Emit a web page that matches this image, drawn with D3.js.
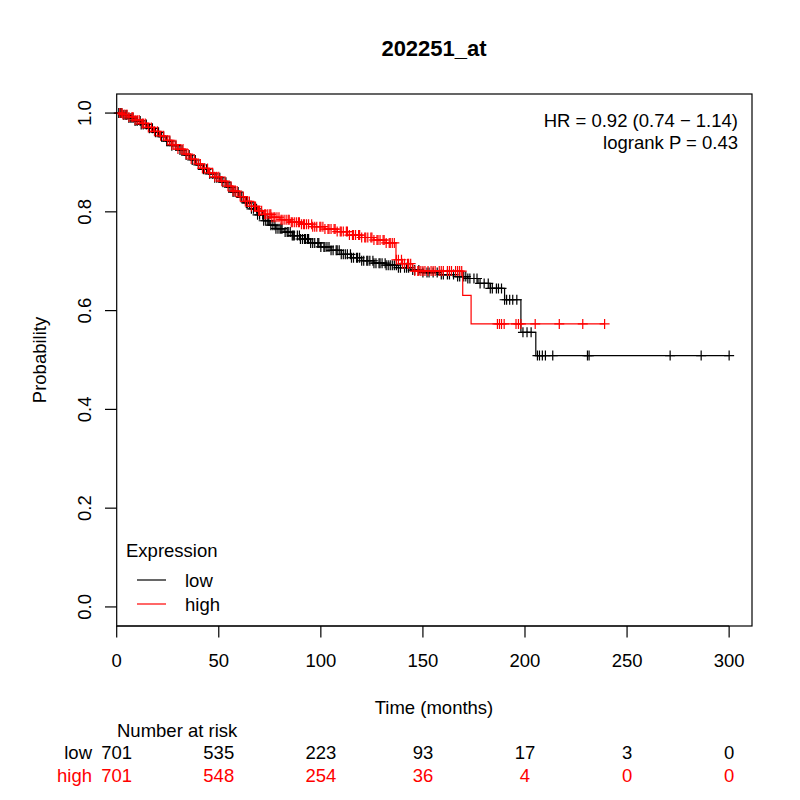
<!DOCTYPE html>
<html lang="en">
<head>
  <meta charset="UTF-8">
  <title>202251_at</title>
  <script src="https://d3js.org/d3.v7.min.js"></script>
  <style>
    body { margin: 0; background: #fff; }
    text { font-family: "Liberation Sans", Arial, sans-serif; }
  </style>
</head>
<body>
<svg id="chart" width="800" height="800"></svg>
<script>
// Kaplan-Meier steps [time, survival]
const lowSteps = [[0,1],[3,0.996],[6,0.99],[9,0.984],[12,0.977],[15,0.969],[18,0.961],[21,0.952],[24,0.943],[27,0.934],[30,0.925],[33,0.915],[36,0.905],[39,0.895],[42,0.886],[45,0.877],[48,0.869],[51,0.86],[54,0.85],[57,0.84],[60,0.829],[63,0.818],[66,0.806],[69,0.794],[72,0.782],[75,0.773],[78,0.766],[82,0.759],[86,0.752],[90,0.745],[95,0.737],[100,0.729],[105,0.722],[110,0.714],[115,0.707],[120,0.701],[126,0.696],[132,0.692],[138,0.687],[144,0.682],[150,0.677],[158,0.673],[166,0.669],[172,0.665],[177,0.655],[183,0.645],[190,0.622],[198,0.556],[205.3,0.509]];
const highSteps = [[0,1],[3,0.997],[6,0.992],[9,0.986],[12,0.979],[15,0.971],[18,0.963],[21,0.954],[24,0.945],[27,0.936],[30,0.927],[33,0.917],[36,0.907],[39,0.897],[42,0.888],[45,0.879],[48,0.871],[51,0.862],[54,0.852],[57,0.842],[60,0.831],[63,0.821],[66,0.811],[69,0.802],[72,0.795],[76,0.789],[80,0.784],[85,0.779],[90,0.775],[96,0.77],[102,0.765],[108,0.76],[114,0.753],[120,0.748],[126,0.743],[132,0.737],[136.8,0.703],[140,0.695],[145,0.68],[169.5,0.631],[173.6,0.573]];

// censored times
const lowCensor = [1,2.5,3.5,5,7,8,10,11.5,13,16,19,22,24.5,27,29,31,34,37,40,42.5,44,47,49,52,53.5,56,58,61,63.5,65,67,68.5,70,71.5,73,74,75.5,76.5,77.5,79,80,81,82.5,83.5,85,86,87,88.5,89.5,91,92,93.5,95,96,97,98.5,100,101.5,103,104,106,107.5,109,111,113,114.5,116,117.5,119,121,122.5,124,125.5,127,128.5,130,131.5,133,135,137,139,141,143,146,148,150,153,155,157,160,163,165,168,170,171,173,175,178,180,182,184,186,187,188.5,191,192.5,194,196,199,201,203,206.1,207.1,208.5,210,213.6,230.6,231.4,271.1,286.3,300];
const lowCensor2 = [2,4.5,6,9,12,14.5,17.5,20.5,23,26,32,35.5,38.5,41,45.5,48,50.5,55,57,59.5,62,64,66,69,72,74.5,78,80.5,84,86.5,90,92.5,94,99,102,105,108,110,112,115,118,120,123,126,129,132,134,136,138,142,145,152,159,162,167,172,176.5,183,190];
const highCensor = [1.5,3,4,6,7.5,9,11,12.5,14,17,20,23,26,28,30,32.5,35,38,41,43,45.5,48,50,51.5,54.5,57,59,62,64,66,67.5,69.5,71,72.5,74,75,76,77,78.5,79.5,80.5,82,83,84.5,85.5,87,88,89,90.5,91.5,93,94,95.5,97,98,99.5,101,102,103.5,105,106.5,108,109.5,111,112.5,114,115.5,117,118.5,120,121.5,123,124.5,126,127.5,129,130.5,132,133.5,135,136,138,139.5,141,142.5,144,146,147.5,149,151,152.5,154,156,158,160,162,164,166,168,169,186.5,187.5,188.5,189.8,195.6,196.8,198,205,216.8,228.3,239];
const highCensor2 = [2.5,5,8,10,13,15.5,18.5,21.5,25,27,29,31.5,34,36.5,40,42,44.5,47,49,53,56,58,60.5,63,65,68,70,73,75.5,77.5,81,84,86,89.5,92,96,100,104,107,110,113,116,119,122,125,128,131,134,137,140,143,148,150,155,159,163,167];

const groups = ["low", "high"];
const xTicks = [0, 50, 100, 150, 200, 250, 300];
const yTicks = [0, 0.2, 0.4, 0.6, 0.8, 1.0];
const atRiskLow = [701, 535, 223, 93, 17, 3, 0];
const atRiskHigh = [701, 548, 254, 36, 4, 0, 0];

const svg = d3.select("#chart");
const red = "#ff0000";
const fs = 18.5;

const x = d3.scaleLinear().domain([0, 311.2]).range([116.7, 752]);
const y = d3.scaleLinear().domain([-0.0386, 1.0386]).range([626, 94]);

// title
svg.append("text")
  .attr("x", 434).attr("y", 56)
  .attr("text-anchor", "middle")
  .attr("font-size", 22).attr("font-weight", "bold")
  .text("202251_at");

// curves
function drawCurve(steps, censor, color) {
  const last = d3.max(censor);
  const pts = steps.concat([[last, steps[steps.length - 1][1]]]);
  svg.append("path")
    .datum(pts)
    .attr("fill", "none")
    .attr("stroke", color)
    .attr("stroke-width", 1.2)
    .attr("d", d3.line().curve(d3.curveStepAfter)
      .x(d => x(d[0])).y(d => y(d[1])));

  const bis = d3.bisector(d => d[0]).right;
  const surv = t => steps[Math.max(0, bis(steps, t) - 1)][1];
  const g = svg.append("g").attr("stroke", color).attr("stroke-width", 1.2);
  g.selectAll("path")
    .data(censor)
    .join("path")
    .attr("d", t => {
      const cx = x(t), cy = y(surv(t));
      return `M${cx - 5},${cy}H${cx + 5}M${cx},${cy - 5}V${cy + 5}`;
    });
}
drawCurve(lowSteps, lowCensor.concat(lowCensor2), "black");
drawCurve(highSteps, highCensor.concat(highCensor2), red);

// box
svg.append("rect")
  .attr("x", 116.7).attr("y", 94)
  .attr("width", 752 - 116.7).attr("height", 626 - 94)
  .attr("fill", "none").attr("stroke", "black").attr("stroke-width", 1.2);

// x axis
const xa = svg.append("g");
xa.selectAll("line").data(xTicks).join("line")
  .attr("x1", d => x(d)).attr("x2", d => x(d))
  .attr("y1", 626).attr("y2", 637.5)
  .attr("stroke", "black").attr("stroke-width", 1.2);
xa.append("line").attr("x1", x(0)).attr("x2", x(300))
  .attr("y1", 626).attr("y2", 626).attr("stroke", "black").attr("stroke-width", 1.2);
xa.selectAll("text").data(xTicks).join("text")
  .attr("x", d => x(d)).attr("y", 667)
  .attr("text-anchor", "middle").attr("font-size", fs)
  .text(d => d);

// y axis
const ya = svg.append("g");
ya.selectAll("line").data(yTicks).join("line")
  .attr("x1", 105).attr("x2", 116.7)
  .attr("y1", d => y(d)).attr("y2", d => y(d))
  .attr("stroke", "black").attr("stroke-width", 1.2);
ya.selectAll("text").data(yTicks).join("text")
  .attr("transform", d => `translate(91,${y(d)}) rotate(-90)`)
  .attr("text-anchor", "middle").attr("font-size", fs)
  .text(d => d3.format(".1f")(d));

svg.append("text")
  .attr("transform", "translate(46,360) rotate(-90)")
  .attr("text-anchor", "middle").attr("font-size", fs)
  .text("Probability");

svg.append("text")
  .attr("x", 434).attr("y", 714)
  .attr("text-anchor", "middle").attr("font-size", fs)
  .text("Time (months)");

// HR text
svg.append("text")
  .attr("x", 738).attr("y", 127)
  .attr("text-anchor", "end").attr("font-size", fs)
  .text("HR = 0.92 (0.74 \u2212 1.14)");
svg.append("text")
  .attr("x", 738).attr("y", 149)
  .attr("text-anchor", "end").attr("font-size", fs)
  .text("logrank P = 0.43");

// legend
svg.append("text")
  .attr("x", 126).attr("y", 557).attr("font-size", fs)
  .text("Expression");
const leg = svg.append("g");
groups.forEach((gname, i) => {
  const ly = 580 + i * 24;
  leg.append("line")
    .attr("x1", 137).attr("x2", 166).attr("y1", ly).attr("y2", ly)
    .attr("stroke", i === 0 ? "black" : red).attr("stroke-width", 1.2);
  leg.append("text")
    .attr("x", 185).attr("y", ly + 6.5).attr("font-size", fs)
    .text(gname);
});

// number at risk
svg.append("text")
  .attr("x", 117).attr("y", 737).attr("font-size", fs)
  .text("Number at risk");
[atRiskLow, atRiskHigh].forEach((vals, i) => {
  const ry = 759 + i * 22.5;
  const col = i === 0 ? "black" : red;
  svg.append("text")
    .attr("x", 92).attr("y", ry).attr("text-anchor", "end")
    .attr("font-size", fs).attr("fill", col)
    .text(groups[i]);
  svg.append("g").selectAll("text").data(vals).join("text")
    .attr("x", (d, j) => x(xTicks[j])).attr("y", ry)
    .attr("text-anchor", "middle").attr("font-size", fs).attr("fill", col)
    .text(d => d);
});
</script>
</body>
</html>
